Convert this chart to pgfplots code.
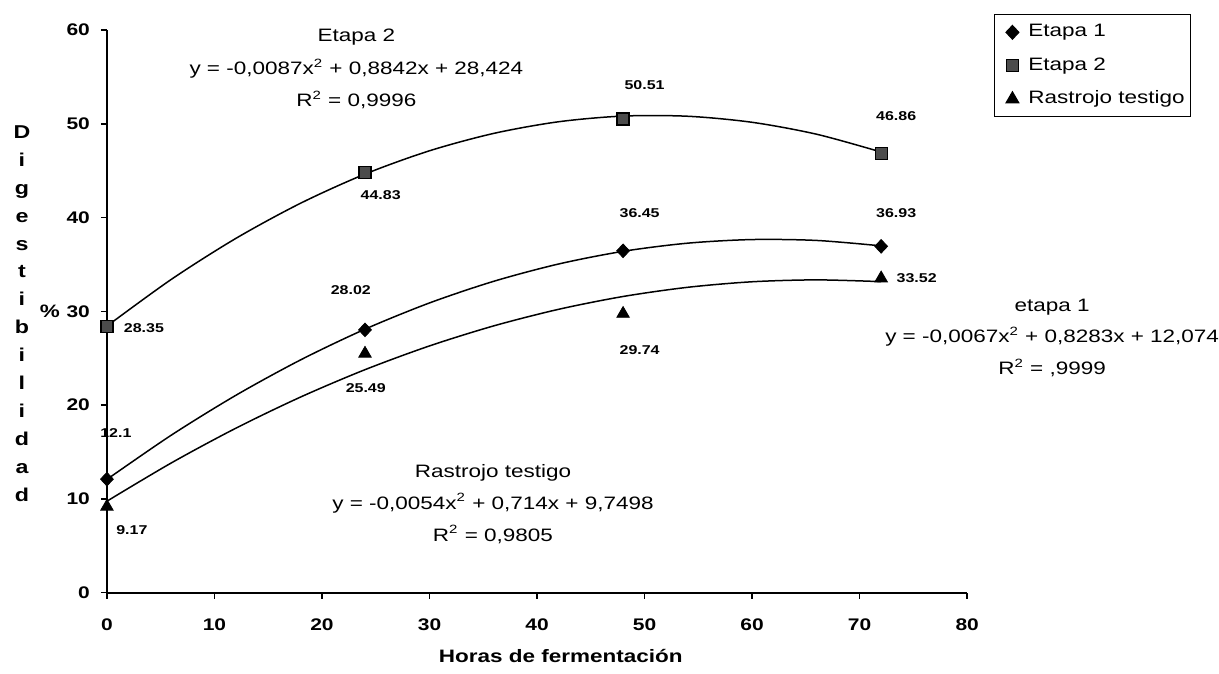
\documentclass[border=0pt]{standalone}
\usepackage{fontspec}
\setmainfont{Liberation Sans}[FakeStretch=1.25]
\usepackage{pgfplots}
\pgfplotsset{compat=1.18}

\pgfplotstableread{
x y
0 12.10
24 28.02
48 36.45
72 36.93
}\etapaA
\pgfplotstableread{
x y
0 28.35
24 44.83
48 50.51
72 46.86
}\etapaB
\pgfplotstableread{
x y
0 9.17
24 25.49
48 29.74
72 33.52
}\rastrojo

\begin{document}
\begin{tikzpicture}
\begin{axis}[
  x=5.38pt, y=4.6915pt,
  xmin=0, xmax=80, ymin=0, ymax=60,
  axis x line=bottom, axis y line=left,
  axis line style={line width=1pt, -},
  xtick={0,10,...,80}, ytick={0,10,...,60},
  tick align=outside, major tick length=3pt,
  tick style={line width=0.8pt, black},
  /pgf/number format/assume math mode=true,
  ticklabel style={font=\fontsize{8.4}{10}\selectfont\bfseries},
  xticklabel style={yshift=-6.5pt},
  yticklabel style={xshift=-2pt},
  clip=false,
  legend style={at={(1.031,1.028)}, anchor=north west, draw=black, line width=0.6pt,
    font=\fontsize{9}{11}\selectfont, inner xsep=3pt, inner ysep=4.5pt,
    nodes={inner sep=0pt, text height=6.5pt, text depth=2pt}, row sep=8.2pt},
  legend image code/.code={\path[draw=none,fill=none] (0pt,0pt) -- (14pt,0pt);
    \draw[mark repeat=2,mark phase=2,#1] plot coordinates {(0pt,0pt) (6pt,0pt) (12pt,0pt)};},
  legend cell align=left,
]
% invisible frame giving the page the reference proportions
\path (axis cs:-9.944,-8.633) rectangle (axis cs:103.35,63.2);

% trend lines
\addplot[black, line width=0.75pt, smooth, forget plot] coordinates {
(0,12.074) (6,16.803) (12,21.049) (18,24.813) (24,28.094) (30,30.893) (36,33.210)
(42,35.044) (48,36.396) (54,37.265) (60,37.652) (66,37.557) (72,36.979)};
\addplot[black, line width=0.75pt, smooth, forget plot] coordinates {
(0,28.424) (6,33.416) (12,37.782) (18,41.521) (24,44.634) (30,47.120) (36,48.980)
(42,50.214) (48,50.821) (54,50.802) (60,50.156) (66,48.884) (72,46.986)};
\addplot[black, line width=0.75pt, smooth, forget plot] coordinates {
(0,9.750) (6,13.839) (12,17.540) (18,20.852) (24,23.775) (30,26.310) (36,28.455)
(42,30.212) (48,31.580) (54,32.559) (60,33.150) (66,33.351) (72,33.164)};

% data points
\addplot[only marks, mark=diamond*, mark size=3.4pt, mark options={xscale=1.25, fill=black, draw=black}] table {\etapaA};
\addlegendentry{Etapa 1}
\addplot[only marks, mark=square*, mark size=3pt, mark options={fill=black!70, draw=black, line width=0.6pt}] table {\etapaB};
\addlegendentry{Etapa 2}
\addplot[only marks, mark=triangle*, mark size=3.6pt, mark options={fill=black, draw=black}] table {\rastrojo};
\addlegendentry{Rastrojo testigo}

% data labels
\begin{scope}[every node/.style={font=\fontsize{6.4}{8}\selectfont\bfseries, inner sep=0pt}]
\node at (axis cs:3.44,28.24) {28.35};
\node[anchor=east] at (axis cs:2.32,17.05) {12.1};
\node at (axis cs:2.32,6.71) {9.17};
\node at (axis cs:25.46,42.42) {44.83};
\node at (axis cs:22.68,32.29) {28.02};
\node at (axis cs:24.07,21.85) {25.49};
\node at (axis cs:50.0,54.14) {50.51};
\node at (axis cs:49.54,40.5) {36.45};
\node at (axis cs:49.54,25.9) {29.74};
\node at (axis cs:73.4,50.84) {46.86};
\node at (axis cs:73.4,40.5) {36.93};
\node at (axis cs:75.3,33.57) {33.52};
\end{scope}

% trend equations
\begin{scope}[every node/.style={font=\fontsize{9}{11}\selectfont, inner sep=0pt, anchor=base}]
\node at (axis cs:23.2,58.72) {Etapa 2};
\node at (axis cs:23.2,55.21) {y = -0,0087x\textsuperscript{2} + 0,8842x + 28,424};
\node at (axis cs:23.2,51.80) {R\textsuperscript{2} = 0,9996};
\node at (axis cs:87.9,29.95) {etapa 1};
\node at (axis cs:87.9,26.64) {y = -0,0067x\textsuperscript{2} + 0,8283x + 12,074};
\node at (axis cs:87.9,23.23) {R\textsuperscript{2} = ,9999};
\node at (axis cs:35.9,12.26) {Rastrojo testigo};
\node at (axis cs:35.9,8.85) {y = -0,0054x\textsuperscript{2} + 0,714x + 9,7498};
\node at (axis cs:35.9,5.44) {R\textsuperscript{2} = 0,9805};
\end{scope}

% axis titles
\node[font=\fontsize{9}{11}\selectfont\bfseries, inner sep=0pt, anchor=base] at (axis cs:42.2,-7.5) {Horas de fermentación};
\node[font=\fontsize{9.3}{14}\selectfont\bfseries, inner sep=0pt, anchor=north, align=center] at (axis cs:-7.9,49.88)
  {D\\i\\g\\e\\s\\t\\i\\b\\i\\l\\i\\d\\a\\d};
\node[font=\fontsize{9}{11}\selectfont\bfseries, inner sep=0pt] at (axis cs:-5.3,29.95) {\%};
\end{axis}
\end{tikzpicture}
\end{document}
